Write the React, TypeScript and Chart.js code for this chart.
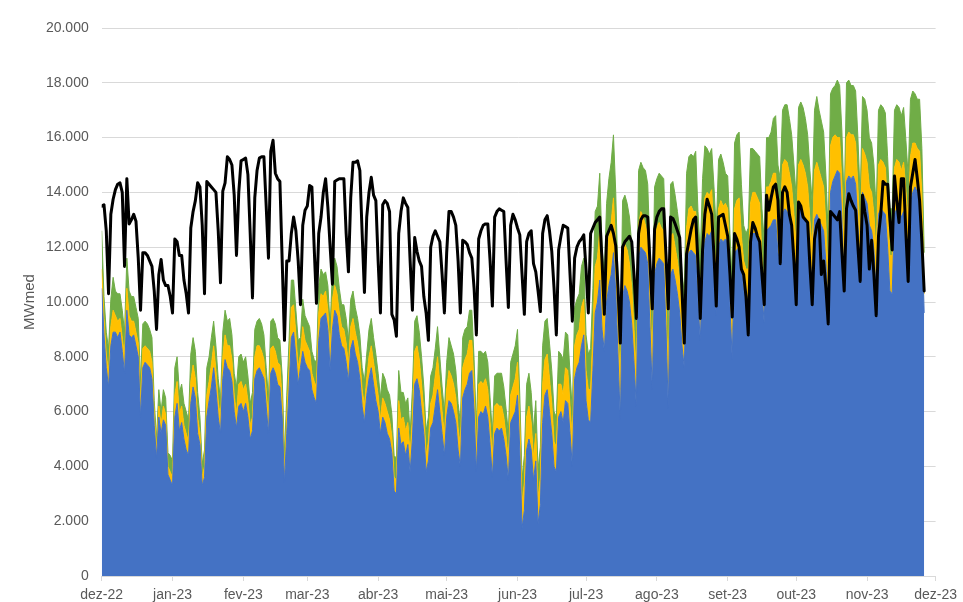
import { useEffect, useRef } from 'react';
import { Chart, registerables } from 'chart.js';

Chart.register(...registerables);

// Month tick positions (day index from 1 Dec 2022) and their labels
const monthTicks = [0, 31, 62, 90, 121, 151, 182, 212, 243, 274, 304, 335, 365];
const monthLabels = ['dez-22', 'jan-23', 'fev-23', 'mar-23', 'abr-23', 'mai-23', 'jun-23', 'jul-23', 'ago-23', 'set-23', 'out-23', 'nov-23', 'dez-23'];
const yTicks = [0, 2000, 4000, 6000, 8000, 10000, 12000, 14000, 16000, 18000, 20000];

// Black line (daily load, MWmed), 1 Dec 2022 .. 26 Nov 2023
const carga = [
  13500, 13550, 12600, 10300,
  13200, 13750, 14100, 14300, 14350, 14000, 11300,
  14500, 12850, 13000, 13200, 12950, 11600, 9700,
  11800, 11800, 11700, 11500, 11300, 10400, 9000,
  11000, 11550, 10800, 10600, 10600, 10200, 9600,
  12300, 12200, 11700, 11700, 10800, 10300, 9600,
  12700, 13300, 13700, 14350, 14200, 12800, 10300,
  14400, 14300, 14200, 14100, 14000, 12600, 10700,
  14050, 14350, 15300, 15200, 15000, 13900, 11700,
  14000, 15150, 15200, 15250, 14650, 12500, 10150,
  13800, 14800, 15250, 15300, 15300, 13500, 11600,
  15500, 15900, 14700, 14500, 14400, 11500, 8600,
  11500, 11500, 12500, 13100, 12600, 11500, 9900,
  12800, 13350, 13500, 14250, 14200, 12000, 9950,
  12500, 13100, 14000, 14500, 13450, 12000, 10650,
  14400, 14450, 14500, 14500, 14500, 12500, 11100,
  13800, 15100, 15100, 15150, 14800, 12500, 10350,
  13100, 14000, 14550, 13900, 13700, 11500, 9600,
  13550, 13700, 13600, 13300, 9550, 9350, 8750,
  12500, 13300, 13800, 13600, 13450, 11500, 9700,
  12350, 11850, 11500, 11300, 10200, 9600, 8600,
  12000, 12400, 12600, 12400, 12200, 11000, 9600,
  11800, 13300, 13300, 13100, 12800, 11500, 9600,
  12250, 12200, 12100, 11800, 11600, 10500, 8800,
  12300, 12600, 12800, 12850, 12850, 11500, 9850,
  13100, 13300, 13400, 13350, 13300, 11500, 9800,
  12800, 13200, 13000, 12700, 12450, 11000, 9550,
  12200, 12500, 12600, 11400, 11100, 10400, 9650,
  12500, 13000, 13150, 12600, 11850, 10500, 8800,
  11900, 12400, 12800, 12750, 12700, 11000, 9300,
  11600, 12000, 12200, 12300, 12450, 11200, 9600,
  12500, 12700, 12900, 13000, 13100, 11500, 9550,
  12400, 12600, 12800, 12500, 12050, 10500, 8500,
  12000, 12200, 12300, 12400, 12200, 11000, 9400,
  12500, 13000, 13150, 13150, 13100, 11400, 9750,
  12650, 13100, 13300, 13400, 13400, 11700, 9750,
  13100, 13050, 12850, 12600, 12350, 10400, 8500,
  11750, 12200, 12650, 13000, 13100, 11400, 9400,
  11900, 13200, 13750, 13500, 13200, 11700, 9850,
  13100, 13150, 13200, 12800, 12400, 11000, 9450,
  12500, 12300, 12000, 11200, 11000, 10200, 8800,
  12200, 12900, 12700, 12400, 12200, 11000, 9900,
  13900, 13350, 13800, 14200, 14300, 13700, 11400,
  14000, 14200, 14000, 13200, 12800, 11500, 9900,
  13650, 13500, 13100, 13000, 12900, 11300, 9900,
  12300, 12800, 13000, 11000, 11500, 10500, 9200,
  13300, 13200, 13100, 13000, 13300, 11800, 10400,
  13400, 13950, 13700, 13500, 13350, 12000, 10750,
  13900, 13300, 12800, 11200, 12250, 11000, 9500,
  12400, 13200, 14400, 14300, 14300, 13000, 11900,
  14600, 13700, 12900, 14500, 14500, 12500, 10750,
  14200, 14700, 15200, 14500, 13700, 12200, 10400,
];

// Blue area (bottom layer)
const azul = [
  10500, 8800, 7600, 6900,
  8400, 8900, 8900, 8700, 8900, 8200, 7400,
  9700, 8800, 8700, 8800, 8400, 8000, 5800,
  7600, 7800, 7700, 7600, 7200, 5500, 4300,
  5800, 5200, 5700, 5500, 3700, 3500, 3300,
  5800, 6300, 5300, 5600, 5000, 4600, 4400,
  6300, 6900, 6500, 5200, 4800, 3300, 3600,
  5800, 6400, 6900, 7600, 6800, 5800, 5200,
  7200, 7900, 7600, 7500, 7100, 6000, 5400,
  6200, 6300, 6000, 6300, 5800, 5000, 5300,
  7200, 7500, 7600, 7400, 7200, 6200, 5200,
  7400, 7600, 7400, 7000, 6900, 5800, 3400,
  5200, 6800, 8700, 8900, 8000, 7000, 7600,
  8200, 7800, 7600, 7500, 6800, 6500, 6300,
  8600, 9400, 9500, 9600, 9000, 7500, 9000,
  9700, 9500, 8800, 8400, 8300, 7800, 7100,
  8300, 8600, 8100, 7800, 7200, 6200, 5600,
  6600, 7200, 7600, 7000, 6400, 6000, 5200,
  5800, 5600, 5200, 5000, 4500, 3100, 3000,
  5400, 4800, 4900, 4400, 4800, 3800, 5000,
  7000, 7200, 6800, 6000, 5200, 3800, 4200,
  5400, 5600, 6200, 6800, 6000, 5200, 4400,
  5800, 6400, 6300, 6000, 5600, 4600, 4000,
  6500, 6800, 7000, 7400, 7500, 6000, 3800,
  5800, 6000, 5900, 6200, 5800, 4800, 3600,
  5200, 5400, 5300, 5400, 5000, 4400, 3500,
  5600, 5800, 6000, 6600, 4600, 1750, 2400,
  4600, 5000, 4600, 3500, 4200, 1900, 2600,
  5600, 6600, 6800, 6000, 5200, 4000, 3800,
  5800, 6000, 5600, 6400, 6300, 5200, 4000,
  7200, 7600, 7800, 8400, 8800, 6400, 5700,
  5600, 7500, 9600, 10000, 10800, 9000, 8200,
  10000, 10600, 11000, 11800, 10400, 8000, 5700,
  10200, 10600, 10400, 10000, 9200, 7800, 6200,
  11600, 12000, 11900, 11800, 11400, 9000, 6800,
  11000, 11400, 11600, 11500, 11400, 9000, 6100,
  11000, 11200, 10800, 10300, 9600, 8400, 7600,
  11200, 11800, 11900, 11800, 11700, 10000, 8600,
  11000, 12200, 12500, 12400, 12600, 11000, 9500,
  12000, 12300, 12200, 12300, 12200, 9800, 7900,
  11800, 11900, 12000, 11200, 10400, 10200, 10000,
  12200, 12500, 12500, 12400, 12200, 10400, 9200,
  12600, 12700, 12800, 13000, 13000, 11800, 11400,
  13200, 13400, 13300, 13000, 12600, 11800, 10600,
  13200, 13400, 13200, 13000, 12600, 11600, 10600,
  13000, 13200, 13000, 12800, 12600, 11400, 9700,
  14000, 14400, 14600, 14800, 14700, 13000, 10400,
  14400, 14600, 14500, 14600, 14300, 12800, 10800,
  14000, 13800, 13600, 12800, 12600, 11900, 10300,
  13200, 13400, 13300, 13200, 12000, 10400, 10300,
  13200, 13400, 13300, 13100, 13300, 12600, 11600,
  13600, 14000, 14200, 14000, 13800, 12500, 9600,
];

// Yellow area (middle layer, stacked on blue)
const amarelo = [
  700, 600, 500, 500,
  700, 800, 600, 600, 500, 500, 600,
  800, 700, 600, 500, 500, 500, 500,
  700, 600, 600, 600, 600, 400, 300,
  400, 300, 500, 400, 300, 300, 300,
  800, 800, 600, 600, 500, 600, 500,
  800, 800, 700, 600, 400, 300, 400,
  800, 700, 800, 800, 700, 600, 500,
  800, 900, 800, 900, 800, 600, 500,
  800, 800, 800, 700, 600, 500, 500,
  800, 900, 800, 800, 700, 600, 500,
  900, 800, 800, 800, 800, 600, 400,
  600, 800, 1100, 1000, 800, 600, 500,
  900, 800, 800, 700, 600, 600, 600,
  1000, 900, 700, 800, 700, 700, 1100,
  900, 800, 800, 700, 700, 700, 600,
  800, 800, 800, 700, 700, 600, 600,
  600, 800, 800, 800, 800, 600, 500,
  700, 700, 800, 700, 600, 500, 500,
  1000, 900, 900, 900, 800, 600, 800,
  1200, 1200, 1100, 1000, 800, 600, 700,
  900, 1000, 1100, 1200, 1000, 800, 700,
  1000, 1100, 1000, 1000, 900, 800, 700,
  1100, 1100, 1100, 1200, 1100, 900, 700,
  1200, 1100, 1100, 1000, 1000, 800, 700,
  1000, 900, 900, 800, 800, 700, 700,
  1000, 1100, 1200, 1200, 1000, 900, 1000,
  1200, 1200, 1000, 800, 1000, 900, 1000,
  1400, 1300, 1300, 1200, 1100, 900, 900,
  1200, 1000, 1000, 1200, 1200, 1000, 900,
  1200, 1200, 1200, 1400, 1300, 1100, 1100,
  1200, 1400, 1700, 1600, 1800, 1400, 1300,
  1600, 1800, 1900, 2000, 1600, 1300, 1100,
  1600, 1500, 1500, 1400, 1300, 1200, 1100,
  1200, 1300, 1200, 1000, 1000, 1000, 1000,
  1400, 1300, 1300, 1200, 1200, 1100, 1000,
  1400, 1300, 1200, 1200, 1200, 1100, 1100,
  1500, 1600, 1600, 1500, 1600, 1400, 1300,
  1500, 1600, 1500, 1500, 1500, 1400, 1300,
  1400, 1400, 1300, 1300, 1200, 1100, 1100,
  1600, 1800, 1800, 1200, 1100, 1000, 1200,
  1400, 1500, 1500, 1400, 1400, 1200, 1200,
  1600, 1500, 1600, 1700, 1700, 1400, 1300,
  1800, 1800, 1800, 1700, 1600, 1400, 1400,
  1800, 1800, 1800, 1700, 1600, 1400, 1300,
  1800, 1900, 1800, 1700, 1600, 1400, 1200,
  1700, 1600, 1500, 1200, 1300, 1300, 1300,
  1600, 1600, 1600, 1500, 1500, 1400, 1300,
  1600, 1600, 1500, 1400, 1400, 1300, 1400,
  1800, 1800, 1800, 1700, 1500, 1300, 1400,
  1700, 1800, 1800, 1700, 1800, 1500, 1300,
  1700, 1800, 1600, 1600, 1700, 1400, 700,
];

// Green area (top layer, stacked on yellow)
const verde = [
  1400, 800, 800, 900,
  1000, 1200, 900, 1000, 900, 1000, 900,
  1100, 900, 900, 900, 900, 900, 800,
  900, 900, 900, 800, 900, 500, 400,
  600, 500, 600, 600, 500, 600, 600,
  1000, 900, 800, 800, 800, 800, 800,
  1000, 1000, 1000, 900, 600, 500, 600,
  1000, 900, 1000, 900, 900, 800, 700,
  900, 900, 900, 1000, 900, 800, 1000,
  1000, 1000, 1000, 1000, 900, 800, 900,
  1000, 900, 1000, 1000, 900, 800, 800,
  1000, 1000, 1000, 900, 900, 900, 600,
  800, 1000, 1000, 900, 900, 1000, 600,
  1000, 900, 900, 900, 800, 800, 900,
  1000, 900, 800, 700, 900, 900, 1100,
  1000, 1000, 900, 800, 900, 900, 900,
  1000, 1000, 900, 900, 900, 800, 900,
  900, 1000, 1000, 900, 900, 800, 800,
  900, 900, 800, 900, 800, 800, 800,
  1100, 1000, 900, 1000, 900, 800, 1000,
  1100, 1100, 1000, 1000, 900, 900, 900,
  1000, 1000, 1000, 1100, 1000, 900, 900,
  1000, 1200, 1100, 1100, 1000, 900, 900,
  1100, 1100, 1000, 1100, 1100, 1000, 900,
  1200, 1100, 1100, 1000, 1000, 900, 900,
  1100, 1100, 1200, 1200, 1100, 1000, 1000,
  1200, 1200, 1200, 1200, 1000, 900, 1000,
  1200, 1200, 1100, 1000, 1200, 1100, 1100,
  1400, 1400, 1300, 1300, 1200, 1100, 1100,
  1200, 1100, 1300, 1300, 1300, 1200, 1100,
  1400, 1300, 1300, 1500, 1500, 1300, 1300,
  1500, 1600, 2000, 1900, 2100, 1600, 1500,
  2000, 2100, 2200, 2300, 2000, 1500, 1400,
  1900, 1800, 1700, 1700, 1600, 1500, 1400,
  2000, 1800, 1800, 2000, 1900, 1800, 1600,
  1800, 1800, 1800, 1900, 1900, 1700, 1600,
  1900, 1900, 1900, 1800, 1800, 1600, 1600,
  2000, 1900, 1900, 2000, 2200, 1900, 1800,
  2000, 1900, 1600, 1500, 1500, 1800, 1800,
  1800, 1700, 1600, 1100, 1200, 1600, 1700,
  2400, 2400, 2400, 1900, 1300, 1300, 1500,
  2000, 1600, 1500, 1600, 1700, 1800, 1800,
  1800, 1800, 1800, 2000, 2100, 1800, 1800,
  2000, 2000, 2100, 2000, 1900, 1800, 1800,
  2100, 2100, 2100, 2000, 1900, 1800, 1700,
  2200, 2400, 2200, 2100, 2000, 1800, 1600,
  1900, 1800, 1800, 2100, 1900, 1900, 1800,
  2000, 1900, 1800, 1800, 1900, 1800, 1700,
  1900, 2000, 1900, 1800, 1800, 1800, 1600,
  2000, 2000, 2000, 2000, 1800, 1700, 1700,
  2100, 2000, 2000, 2000, 2000, 1800, 1700,
  2100, 1900, 1800, 1800, 1900, 1700, 1500,
];

const BLUE = '#4472C4';
const YELLOW = '#FFC000';
const GREEN = '#70AD47';
const TEXT = '#595959';
const GRID = '#d9d9d9';
const FONT = '"Liberation Sans", Arial, sans-serif';

function fmtThousands(v: number): string {
  return String(Math.round(v)).replace(/\B(?=(\d{3})+(?!\d))/g, '.');
}

export default function App() {
  const ref = useRef<HTMLCanvasElement>(null);

  useEffect(() => {
    const days = azul.map((_, i) => i);
    const areaCommon = { pointRadius: 0, pointHoverRadius: 0, borderWidth: 1, tension: 0, stack: 'geracao' };
    const chart = new Chart(ref.current as HTMLCanvasElement, {
      type: 'line',
      data: {
        labels: days,
        datasets: [
          {
            label: 'Carga',
            data: carga,
            borderColor: '#000000',
            backgroundColor: '#000000',
            borderWidth: 3,
            borderJoinStyle: 'round',
            borderCapStyle: 'round',
            pointRadius: 0,
            pointHoverRadius: 0,
            fill: false,
            tension: 0,
            stack: 'carga',
          },
          { label: 'Azul', data: azul, backgroundColor: BLUE, borderColor: BLUE, fill: 'origin', ...areaCommon },
          { label: 'Amarelo', data: amarelo, backgroundColor: YELLOW, borderColor: YELLOW, fill: '-1', ...areaCommon },
          { label: 'Verde', data: verde, backgroundColor: GREEN, borderColor: GREEN, fill: '-1', ...areaCommon },
        ],
      } as any,
      options: {
        responsive: false,
        animation: false,
        events: [],
        layout: { padding: { left: 0, right: 26.3, top: 28, bottom: 0 } },
        plugins: { legend: { display: false }, tooltip: { enabled: false } },
        scales: {
          x: {
            type: 'linear',
            min: 0,
            max: 365,
            afterBuildTicks: (s: any) => {
              s.ticks = monthTicks.map((v) => ({ value: v }));
            },
            afterFit: (s: any) => {
              s.height = 26;
            },
            ticks: {
              autoSkip: false,
              maxRotation: 0,
              minRotation: 0,
              padding: 6,
              color: TEXT,
              font: { family: FONT, size: 14 },
              callback: (_v: any, i: number) => monthLabels[i],
            },
            grid: { drawOnChartArea: false, drawTicks: true, tickLength: 5, color: GRID },
            border: { display: true, color: GRID },
          },
          y: {
            stacked: true,
            min: 0,
            max: 20000,
            afterBuildTicks: (s: any) => {
              s.ticks = yTicks.map((v) => ({ value: v }));
            },
            afterFit: (s: any) => {
              s.width = 101.7;
            },
            ticks: {
              padding: 13,
              color: TEXT,
              font: { family: FONT, size: 14 },
              callback: (v: any) => fmtThousands(Number(v)),
            },
            grid: { color: GRID, drawTicks: false, lineWidth: 1 },
            border: { display: false },
            title: {
              display: true,
              text: 'MWmed',
              color: TEXT,
              font: { family: FONT, size: 15 },
              padding: { top: 21, bottom: 0 },
            },
          },
        },
      } as any,
    });
    return () => chart.destroy();
  }, []);

  return (
    <div style={{ position: 'fixed', left: 0, top: 0, width: 963, height: 602, background: '#ffffff' }}>
      <canvas ref={ref} width={963} height={602} style={{ display: 'block', width: 963, height: 602 }} />
    </div>
  );
}
